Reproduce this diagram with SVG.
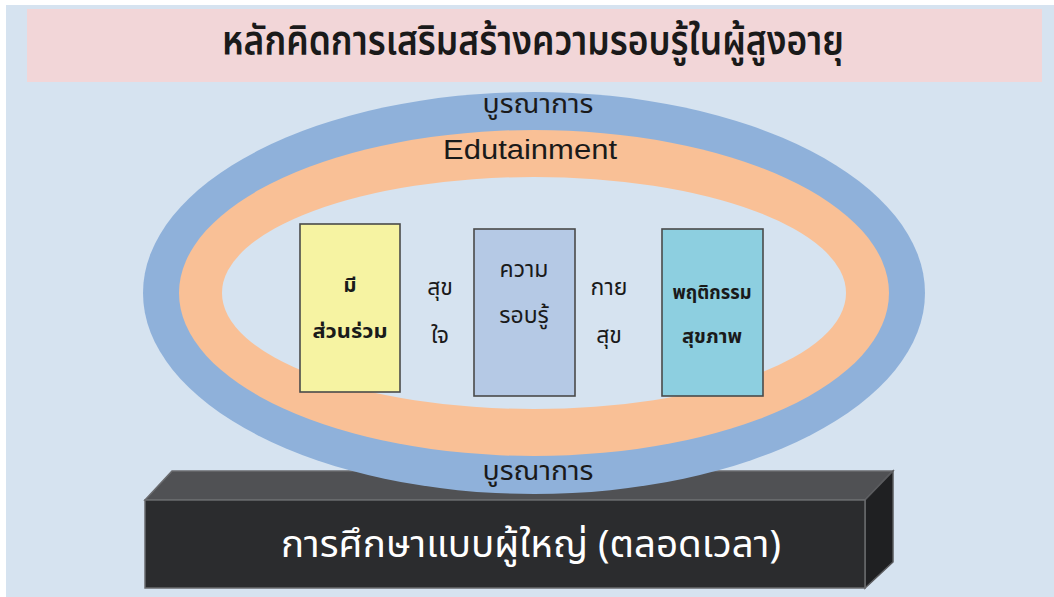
<svg xmlns="http://www.w3.org/2000/svg" width="1054" height="597" viewBox="0 0 1054 597">
<style>
.th{font-family:"Noto Sans Thai","Noto Sans","DejaVu Sans",sans-serif;fill:#1a1a1a;text-anchor:middle}
.box{stroke:#4a4a4a;stroke-width:1.6}
.bt{font-size:20px;font-weight:bold}
.mid{font-size:23px}
</style>
<rect x="0" y="0" width="1054" height="597" fill="#ffffff"/>
<rect x="6" y="5" width="1048" height="592" fill="#d6e3f0"/>
<g id="title">
<rect x="27" y="9" width="1015" height="73" fill="#f2d6d8"/>
<text class="th" x="533" y="55" font-size="40" font-weight="600" textLength="622" lengthAdjust="spacingAndGlyphs">หลักคิดการเสริมสร้างความรอบรู้ในผู้สูงอายุ</text>
</g>
<g id="base">
<polygon points="145,500 172,471 893,471 865,500" fill="#505154" stroke="#6a6b6e" stroke-width="1.5"/>
<polygon points="865,500 893,471 893,562 865,588" fill="#1f2022" stroke="#5a5b5e" stroke-width="1.5"/>
<rect x="145" y="500" width="720" height="88" fill="#2b2c2e" stroke="#6a6b6e" stroke-width="1.5"/>
<text class="th" x="531" y="557" font-size="38" style="fill:#ffffff" textLength="500" lengthAdjust="spacingAndGlyphs">การศึกษาแบบผู้ใหญ่ (ตลอดเวลา)</text>
</g>
<g id="rings">
<ellipse cx="534" cy="293" rx="391" ry="201" fill="#8fb1da"/>
<ellipse cx="534" cy="293" rx="355" ry="163" fill="#f9c096"/>
<ellipse cx="534" cy="293" rx="312" ry="116" fill="#d6e3f0"/>
<text class="th" x="538" y="113" font-size="27" textLength="111" lengthAdjust="spacingAndGlyphs">บูรณาการ</text>
<text x="530" y="159" font-size="27" text-anchor="middle" font-family="Liberation Sans, sans-serif" fill="#1a1a1a" textLength="174" lengthAdjust="spacingAndGlyphs">Edutainment</text>
<text class="th" x="538" y="480" font-size="27" textLength="111" lengthAdjust="spacingAndGlyphs">บูรณาการ</text>
</g>
<g id="participation">
<rect class="box" x="300" y="224" width="100" height="168" fill="#f6f3a2"/>
<text class="th bt" x="350" y="292">มี</text>
<text class="th bt" x="350" y="338" textLength="75" lengthAdjust="spacingAndGlyphs">ส่วนร่วม</text>
</g>
<g id="mental">
<text class="th mid" x="440" y="295">สุข</text>
<text class="th mid" x="440" y="343">ใจ</text>
</g>
<g id="literacy">
<rect class="box" x="474" y="229" width="101" height="167" fill="#b5c9e5"/>
<text class="th mid" x="524" y="277">ความ</text>
<text class="th mid" x="524" y="323">รอบรู้</text>
</g>
<g id="physical">
<text class="th mid" x="609" y="295">กาย</text>
<text class="th mid" x="609" y="343">สุข</text>
</g>
<g id="behavior">
<rect class="box" x="662" y="229" width="101" height="167" fill="#8dcfe0"/>
<text class="th bt" x="712" y="299" textLength="79" lengthAdjust="spacingAndGlyphs">พฤติกรรม</text>
<text class="th bt" x="712" y="343">สุขภาพ</text>
</g>
</svg>
